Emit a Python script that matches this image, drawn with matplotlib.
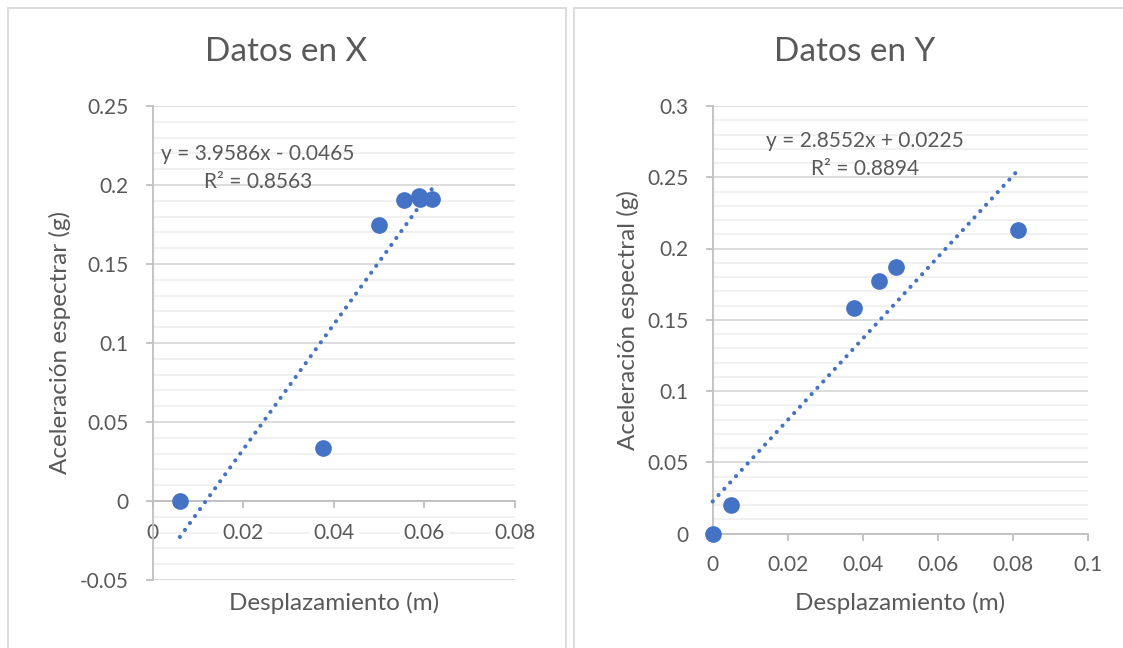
import matplotlib
matplotlib.use("Agg")
import matplotlib.pyplot as plt
import numpy as np
from matplotlib.patches import Rectangle
from matplotlib.ticker import MultipleLocator

plt.rcParams['font.family'] = ['Lato', 'DejaVu Sans']

# ---- data -------------------------------------------------------------
desp_x = [0.0060, 0.0375, 0.0500, 0.0556, 0.0587, 0.0590, 0.0616]
acel_x = [0.0000, 0.0335, 0.1750, 0.1905, 0.1930, 0.1910, 0.1910]
pend_x, orig_x, r2_x = 3.9586, -0.0465, 0.8563

desp_y = [0.0000, 0.0048, 0.0377, 0.0444, 0.0489, 0.0815]
acel_y = [0.0000, 0.0202, 0.1585, 0.1770, 0.1870, 0.2133]
pend_y, orig_y, r2_y = 2.8552, 0.0225, 0.8894

yticks_x = [-0.05, 0, 0.05, 0.1, 0.15, 0.2, 0.25]
yticklabels_x = ['-0.05', '0', '0.05', '0.1', '0.15', '0.2', '0.25']
xticks_x = [0, 0.02, 0.04, 0.06, 0.08]
xticklabels_x = ['0', '0.02', '0.04', '0.06', '0.08']

yticks_y = [0, 0.05, 0.1, 0.15, 0.2, 0.25, 0.3]
yticklabels_y = ['0', '0.05', '0.1', '0.15', '0.2', '0.25', '0.3']
xticks_y = [0, 0.02, 0.04, 0.06, 0.08, 0.1]
xticklabels_y = ['0', '0.02', '0.04', '0.06', '0.08', '0.1']

# ---- styling ----------------------------------------------------------
W, H = 1123, 648
BLUE = '#4472C4'
TXT = '#595959'
AXIS = '#BFBFBF'
MAJ = '#D9D9D9'
MIN = '#F0F0F0'
FS_TICK = 15
FS_LAB = 17.5
FS_TITLE = 24

fig = plt.figure(figsize=(W / 100, H / 100), dpi=100)
fig.patch.set_facecolor('white')


def fx(px):
    return px / W


def fy(py):
    return 1 - py / H


# chart frames
for x0, x1 in [(8, 566), (574, 1140)]:
    fig.patches.append(Rectangle((fx(x0), fy(700)), fx(x1 - x0), (700 - 8) / H,
                                 transform=fig.transFigure, fill=False,
                                 edgecolor=MAJ, linewidth=1.3, zorder=0))


def setup(ax, xlim, ylim, xticks, xtl, yticks, ytl):
    ax.set_xlim(*xlim)
    ax.set_ylim(*ylim)
    ax.set_facecolor('none')
    for s in ['top', 'right']:
        ax.spines[s].set_visible(False)
    for s in ['left', 'bottom']:
        ax.spines[s].set_color(AXIS)
        ax.spines[s].set_linewidth(1.3)
    ax.spines['bottom'].set_position(('data', 0))
    ax.set_xticks(xticks)
    ax.set_xticklabels(xtl)
    ax.set_yticks(yticks)
    ax.set_yticklabels(ytl)
    ax.yaxis.set_minor_locator(MultipleLocator(0.01))
    ax.tick_params(axis='both', which='major', colors=AXIS, labelcolor=TXT,
                   labelsize=FS_TICK, length=5, width=1.3, direction='out')
    ax.tick_params(axis='x', pad=10.5)
    ax.tick_params(axis='y', pad=12.5)
    ax.tick_params(axis='y', which='minor', length=0)
    ax.grid(True, axis='y', which='major', color=MAJ, linewidth=1.3, zorder=0)
    ax.grid(True, axis='y', which='minor', color=MIN, linewidth=1.3, zorder=0)
    ax.grid(False, axis='x')
    ax.set_axisbelow(True)


def trend(ax, xs, m, b):
    xx = np.array([min(xs), max(xs)])
    ax.plot(xx, m * xx + b, color=BLUE, linewidth=3.0,
            linestyle=(0, (0.01, 2.05)), dash_capstyle='round', zorder=3,
            clip_on=False)


# ---- left chart: Datos en X -------------------------------------------
axL = fig.add_axes([fx(152.7), fy(580), fx(515 - 152.7), (580 - 106) / H])
setup(axL, (0, 0.08), (-0.05, 0.25), xticks_x, xticklabels_x, yticks_x, yticklabels_x)
# the x labels sit inside the plot area: draw them above the grid, on white
axL.xaxis.set_zorder(1)
for lab in axL.get_xticklabels()[1:]:
    lab.set_bbox(dict(facecolor='white', edgecolor='none', pad=3))
trend(axL, desp_x, pend_x, orig_x)
axL.plot(desp_x, acel_x, 'o', color=BLUE, markersize=11, zorder=4, clip_on=False)
fig.text(fx(286), fy(52), 'Datos en X', ha='center', va='center',
         fontsize=FS_TITLE, color=TXT)
fig.text(fx(334), fy(603), 'Desplazamiento (m)', ha='center', va='center',
         fontsize=FS_LAB, color=TXT)
fig.text(fx(60), fy(343), 'Aceleración espectrar (g)', ha='center', va='center',
         rotation=90, fontsize=FS_LAB, color=TXT)
fig.text(fx(258), fy(168),
         f'y = {pend_x:.4f}x - {abs(orig_x):.4f}\nR² = {r2_x:.4f}',
         ha='center', va='center', fontsize=FS_TICK, color=TXT,
         linespacing=1.45)

# ---- right chart: Datos en Y ------------------------------------------
axR = fig.add_axes([fx(712.7), fy(533.5), fx(1087.7 - 712.7), (533.5 - 106) / H])
setup(axR, (0, 0.1), (0, 0.3), xticks_y, xticklabels_y, yticks_y, yticklabels_y)
trend(axR, desp_y, pend_y, orig_y)
axR.plot(desp_y, acel_y, 'o', color=BLUE, markersize=11, zorder=4, clip_on=False)
fig.text(fx(855), fy(52), 'Datos en Y', ha='center', va='center',
         fontsize=FS_TITLE, color=TXT)
fig.text(fx(900), fy(603), 'Desplazamiento (m)', ha='center', va='center',
         fontsize=FS_LAB, color=TXT)
fig.text(fx(628), fy(320), 'Aceleración espectral (g)', ha='center', va='center',
         rotation=90, fontsize=FS_LAB, color=TXT)
fig.text(fx(865), fy(155),
         f'y = {pend_y:.4f}x + {orig_y:.4f}\nR² = {r2_y:.4f}',
         ha='center', va='center', fontsize=FS_TICK, color=TXT,
         linespacing=1.45)

fig.savefig('out.png', dpi=100, facecolor='white')
